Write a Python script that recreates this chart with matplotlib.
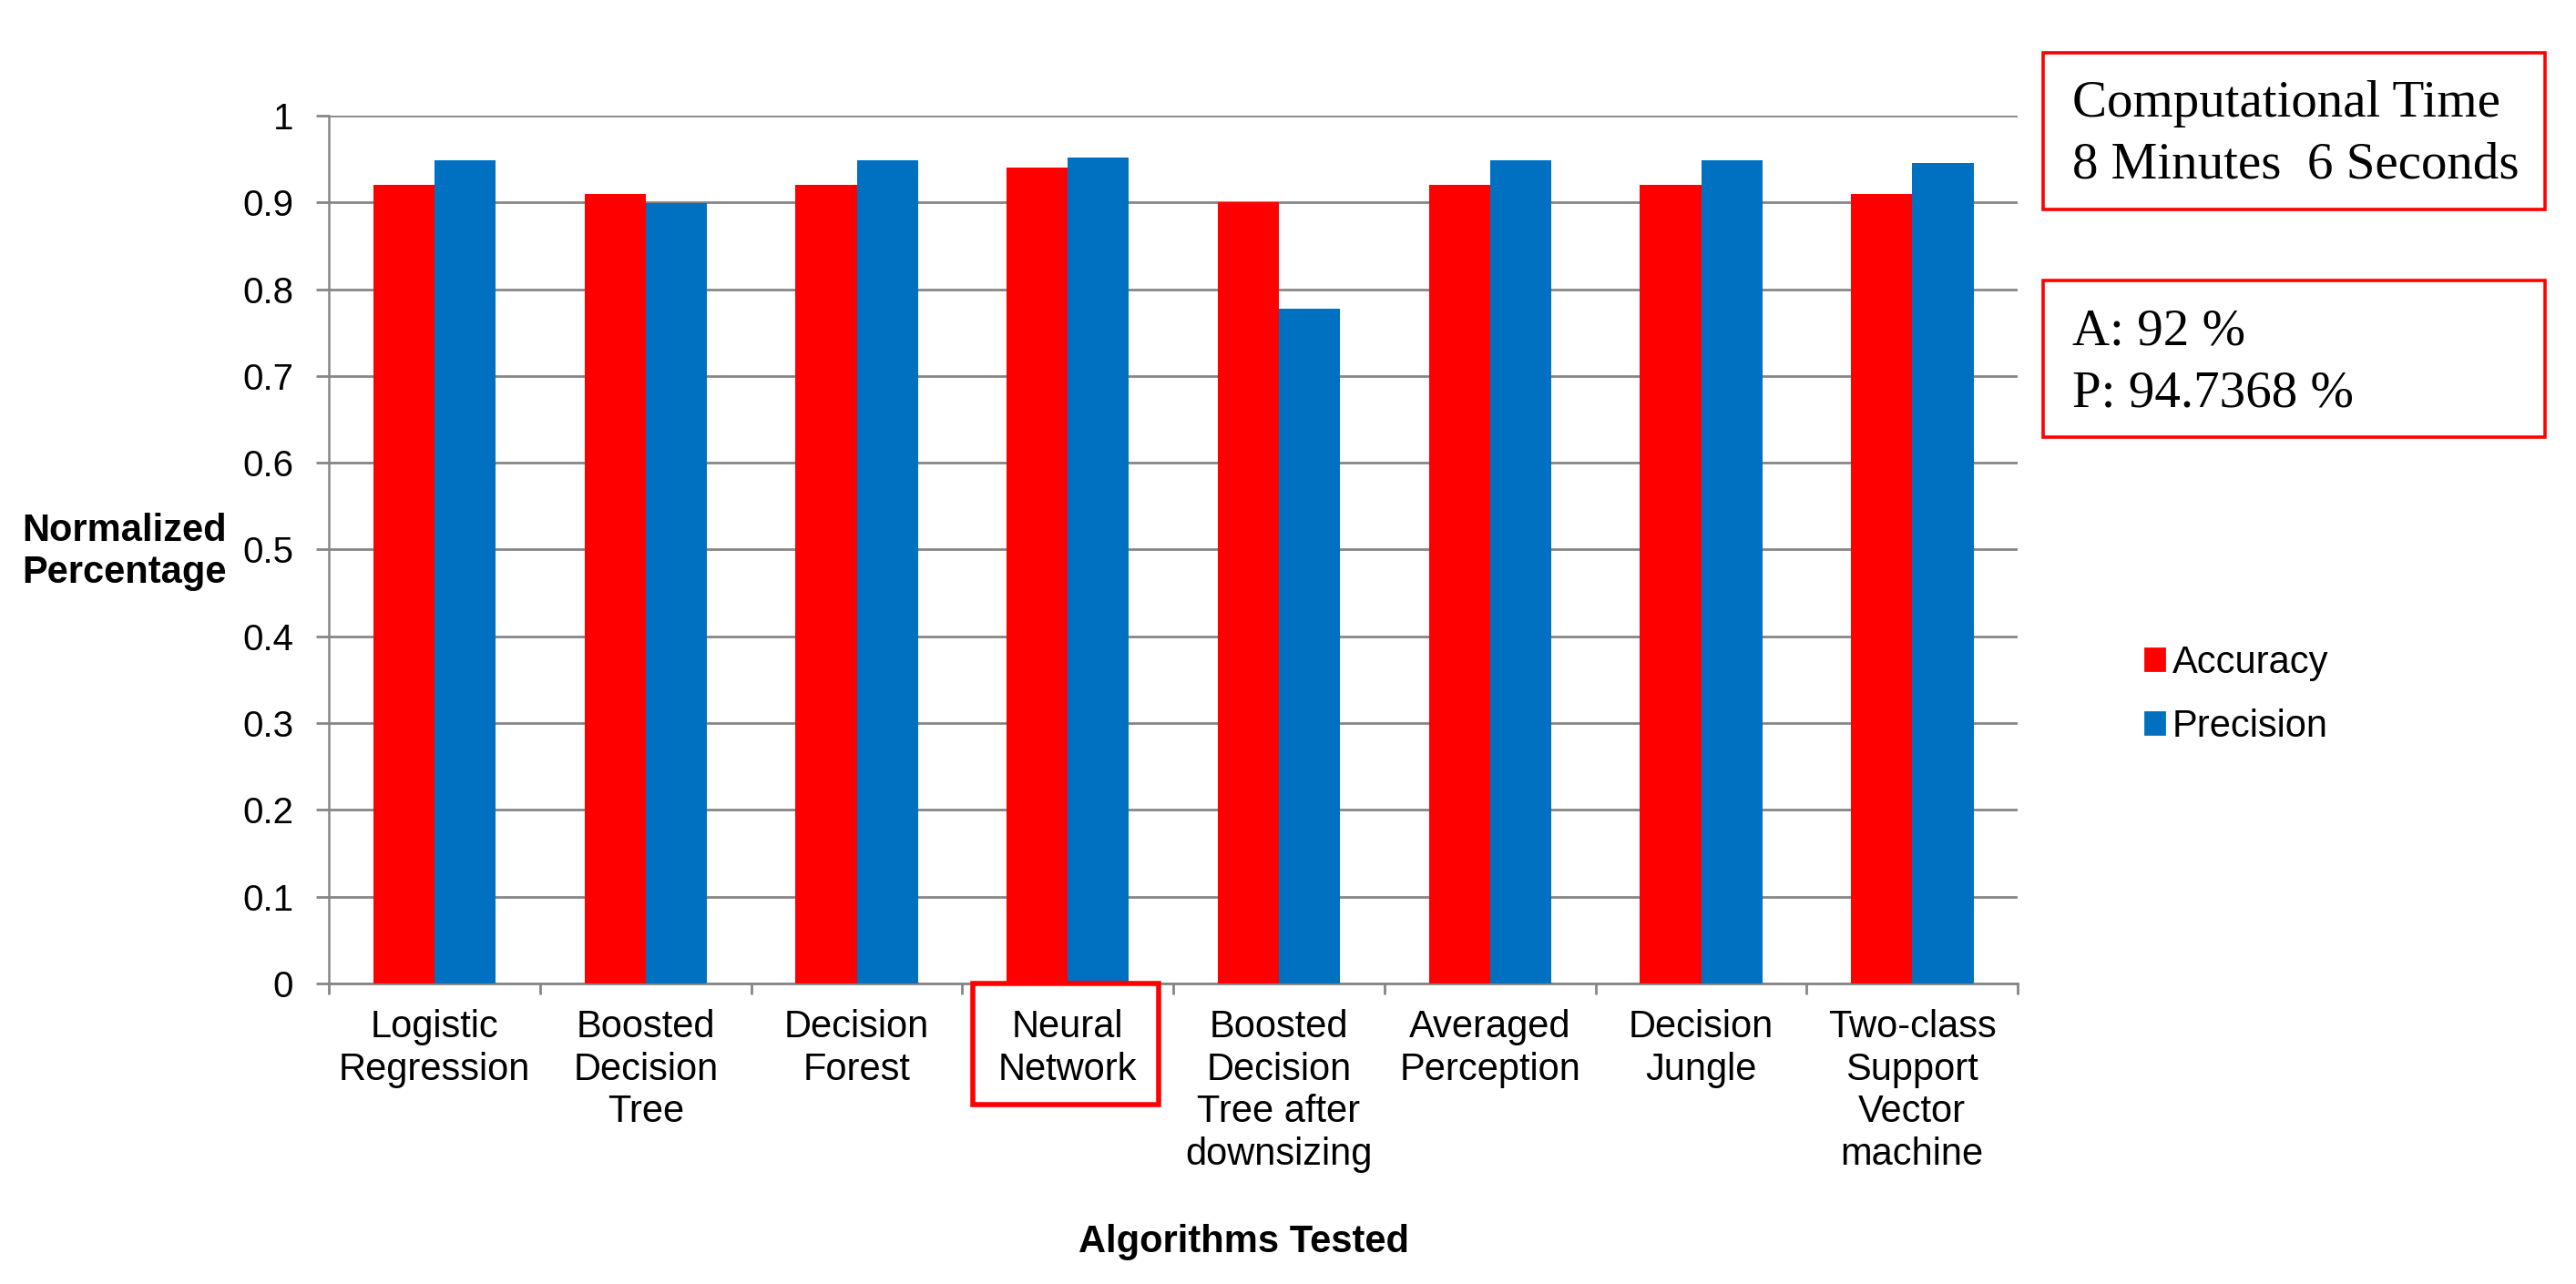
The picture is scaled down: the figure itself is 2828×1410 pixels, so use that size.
import numpy as np
import matplotlib.pyplot as plt
from matplotlib.patches import Rectangle
import matplotlib.transforms as mtransforms

# data
algorithms = ["Logistic\nRegression", "Boosted\nDecision\nTree", "Decision\nForest",
              "Neural\nNetwork", "Boosted\nDecision\nTree after\ndownsizing",
              "Averaged\nPerception", "Decision\nJungle", "Two-class\nSupport\nVector\nmachine"]
accuracy = [0.92, 0.91, 0.92, 0.94, 0.90, 0.92, 0.92, 0.91]
precision = [0.949, 0.899, 0.949, 0.952, 0.778, 0.949, 0.949, 0.945]
yticks = [0, 0.1, 0.2, 0.3, 0.4, 0.5, 0.6, 0.7, 0.8, 0.9, 1]

RED = "#FF0000"
BLUE = "#0070C0"
GRID = "#868686"
sans = ["Liberation Sans", "DejaVu Sans"]
serif = ["Liberation Serif", "DejaVu Serif"]

fig = plt.figure(figsize=(14.14, 7.05), dpi=200)
ax = fig.add_axes([0.1277, 0.234, 0.7833 - 0.1277, 0.910 - 0.234])

x = np.arange(len(algorithms))
w = 0.29
ax.bar(x - w/2, accuracy, w, color=RED, label="Accuracy", zorder=3)
ax.bar(x + w/2, precision, w, color=BLUE, label="Precision", zorder=3)

ax.set_xlim(-0.5, len(algorithms) - 0.5)
ax.set_ylim(0, 1)
ax.set_yticks(yticks)
ax.set_yticklabels([("%g" % v) for v in yticks], family=sans, fontsize=14.5)
ax.yaxis.grid(True, color=GRID, lw=1.0, zorder=0)
ax.tick_params(axis="y", length=5, width=1.0, color=GRID, pad=9)

ax.set_xticks(x)
ax.set_xticklabels(algorithms, family=sans, fontsize=15, linespacing=1.22, va="top")
ax.tick_params(axis="x", which="major", length=0, pad=10)
ax.set_xticks(np.arange(-0.5, len(algorithms)), minor=True)
ax.tick_params(axis="x", which="minor", length=4.4, width=1.0, color=GRID)

for s in ["top", "right"]:
    ax.spines[s].set_visible(False)
ax.spines["left"].set_color(GRID)
ax.spines["left"].set_linewidth(0.9)
ax.spines["bottom"].set_color(GRID)
ax.spines["bottom"].set_linewidth(1.0)

# red box around Neural Network
trans = mtransforms.blended_transform_factory(ax.transData, ax.transAxes)
ax.add_patch(Rectangle((2.55, -0.139), 0.88, 0.139, transform=trans, fill=False,
                       edgecolor=RED, lw=2.0, clip_on=False, zorder=5))

# axis titles
fig.text(0.0483, 0.5787, "Normalized", ha="center", va="baseline",
         family=sans, fontsize=15, fontweight="bold")
fig.text(0.0483, 0.5461, "Percentage", ha="center", va="baseline",
         family=sans, fontsize=15, fontweight="bold")
fig.text(0.483, 0.025, "Algorithms Tested", ha="center", va="baseline",
         family=sans, fontsize=15, fontweight="bold")

# legend
handles = [Rectangle((0, 0), 1, 1, color=RED), Rectangle((0, 0), 1, 1, color=BLUE)]
fig.legend(handles, ["Accuracy", "Precision"], loc="center left",
           bbox_to_anchor=(0.8327, 0.4589), frameon=False, prop={"family": sans, "size": 15},
           handlelength=0.5, handleheight=0.5, handletextpad=0.22, labelspacing=0.72,
           borderpad=0, borderaxespad=0)

# annotation boxes
fig.patches.append(Rectangle((0.7931, 0.8369), 0.988 - 0.7931, 0.9589 - 0.8369,
                             transform=fig.transFigure, fill=False, edgecolor=RED, lw=1.3))
fig.patches.append(Rectangle((0.7931, 0.6596), 0.988 - 0.7931, 0.7816 - 0.6596,
                             transform=fig.transFigure, fill=False, edgecolor=RED, lw=1.3))
fig.text(0.8045, 0.9092, "Computational Time", va="baseline", family=serif, fontsize=20.5)
fig.text(0.8045, 0.8617, "8 Minutes  6 Seconds", va="baseline", family=serif, fontsize=20.5)
fig.text(0.8045, 0.7319, "A: 92 %", va="baseline", family=serif, fontsize=20.5)
fig.text(0.8045, 0.6830, "P: 94.7368 %", va="baseline", family=serif, fontsize=20.5)

fig.savefig("out.png", dpi=200)
